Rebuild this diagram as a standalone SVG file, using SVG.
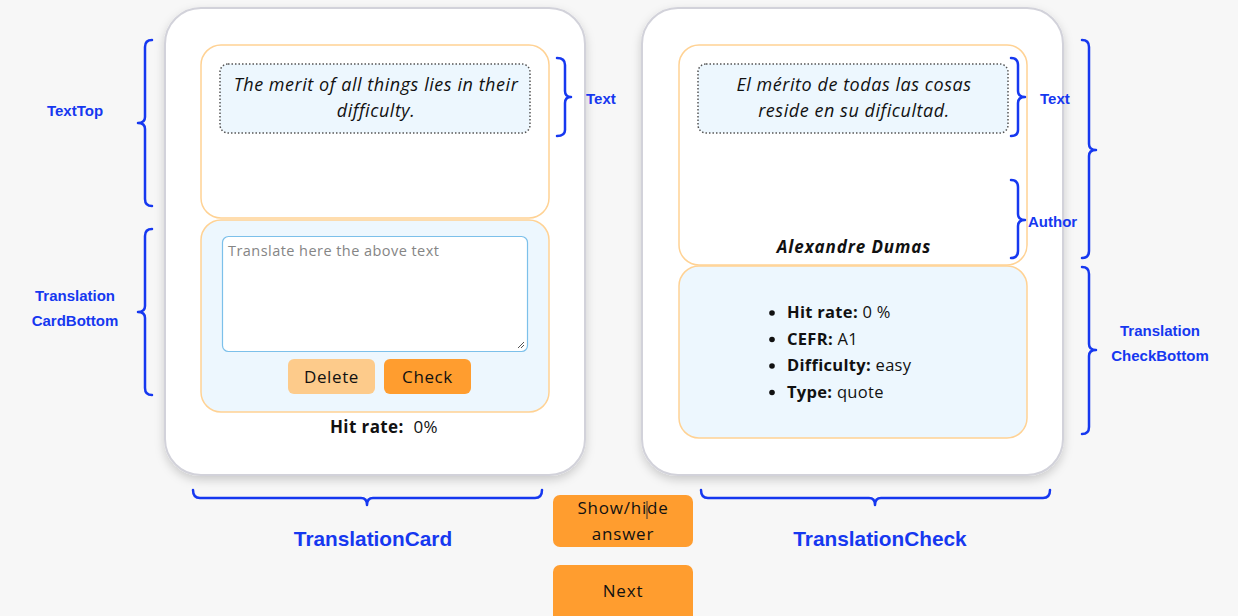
<svg xmlns="http://www.w3.org/2000/svg" width="1238" height="616" viewBox="0 0 1238 616">
<defs>
<filter id="sh" x="-10%" y="-10%" width="120%" height="120%">
<feDropShadow dx="0" dy="4" stdDeviation="5" flood-color="#000" flood-opacity="0.18"/>
</filter>
<style>
.card{fill:#fff;stroke:#d2d2da;stroke-width:2;filter:url(#sh)}
.panel{fill:#fff;stroke:#ffd294;stroke-width:1.5}
.panelb{fill:#edf7fe;stroke:#ffd294;stroke-width:1.5}
.dot{fill:#edf7fe;stroke:#555;stroke-width:1.5;stroke-dasharray:1.5 2}
.brace{fill:none;stroke:#1638f0;stroke-width:2.5;stroke-linecap:round;stroke-linejoin:round}
.lbl{font-family:"Liberation Sans",Arial,sans-serif;font-weight:bold;font-size:15px;fill:#1638f0}
.big{font-family:"Liberation Sans",Arial,sans-serif;font-weight:bold;font-size:20.8px;fill:#1638f0}
.pop{font-family:"Open Sans","Noto Sans",sans-serif;fill:#111}
.quote{font-style:italic;font-size:18px;letter-spacing:0.55px;text-anchor:middle}
.btn{fill:#ff9d2f}
</style>
</defs>
<rect x="0" y="0" width="1238" height="616" fill="#f7f7f7"/>

<g id="translationCard">
<rect class="card" x="165" y="8" width="420" height="467" rx="36"/>
<g id="textTop">
<rect class="panel" x="201" y="45" width="348" height="173" rx="20"/>
<rect class="dot" x="220" y="64" width="310" height="69" rx="8"/>
<text class="pop quote" x="376" y="91">The merit of all things lies in their</text>
<text class="pop quote" x="376" y="117">difficulty.</text>
</g>
<g id="cardBottom">
<rect class="panelb" x="201" y="220" width="348" height="192" rx="20"/>
<rect x="222.5" y="236.5" width="305" height="115" rx="6" fill="#fff" stroke="#7cc0ea" stroke-width="1.2"/>
<text class="pop" x="228" y="256" font-size="14.5" letter-spacing="0.45" style="fill:#858585">Translate here the above text</text>
<path d="M518 348 L524 342 M521 348 L524 345" stroke="#555" stroke-width="1"/>
<rect x="288" y="359" width="87" height="35" rx="6" fill="#fdcb8b"/>
<text class="pop" x="331.5" y="383" font-size="17" letter-spacing="0.6" text-anchor="middle">Delete</text>
<rect x="384" y="359" width="87" height="35" rx="6" class="btn"/>
<text class="pop" x="427.5" y="383" font-size="17" letter-spacing="0.6" text-anchor="middle">Check</text>
</g>
<text class="pop" x="384" y="433" font-size="17" letter-spacing="0.4" text-anchor="middle" xml:space="preserve"><tspan font-weight="bold">Hit rate:</tspan>  0%</text>
</g>

<g id="translationCheck">
<rect class="card" x="642" y="8" width="421" height="467" rx="36"/>
<g id="checkTop">
<rect class="panel" x="679" y="45" width="348" height="220" rx="20"/>
<rect class="dot" x="698" y="64" width="310" height="69" rx="8"/>
<text class="pop quote" x="854" y="91">El mérito de todas las cosas</text>
<text class="pop quote" x="854" y="117">reside en su dificultad.</text>
<text class="pop" x="854" y="253" font-size="17" font-weight="bold" font-style="italic" letter-spacing="0.9" text-anchor="middle">Alexandre Dumas</text>
</g>
<g id="checkBottom">
<rect class="panelb" x="679" y="266" width="348" height="172" rx="20"/>
<g class="pop" font-size="16.5" letter-spacing="0.3">
<circle cx="772" cy="313" r="2.8" fill="#111"/>
<circle cx="772" cy="339.5" r="2.8" fill="#111"/>
<circle cx="772" cy="366" r="2.8" fill="#111"/>
<circle cx="772" cy="392.5" r="2.8" fill="#111"/>
<text x="787" y="318"><tspan font-weight="bold">Hit rate:</tspan> 0 %</text>
<text x="787" y="344.5"><tspan font-weight="bold">CEFR:</tspan> A1</text>
<text x="787" y="371"><tspan font-weight="bold">Difficulty:</tspan> easy</text>
<text x="787" y="397.5"><tspan font-weight="bold">Type:</tspan> quote</text>
</g>
</g>
</g>

<g id="buttons">
<g id="showHide">
<rect x="553" y="495" width="140" height="52" rx="7" class="btn"/>
<text class="pop" x="623" y="514" font-size="17" letter-spacing="0.8" text-anchor="middle">Show/hide</text>
<text class="pop" x="623" y="540" font-size="17" letter-spacing="0.8" text-anchor="middle">answer</text>
<line x1="647" y1="501" x2="647" y2="519" stroke="#333" stroke-width="1"/>
</g>
<g id="next">
<rect x="553" y="565" width="140" height="60" rx="7" class="btn"/>
<text class="pop" x="623" y="597" font-size="17" letter-spacing="0.8" text-anchor="middle">Next</text>
</g>
</g>

<g id="connectors">
<path class="brace" d="M152 40 Q145 40 145 47 L145 117 Q145 123 138 123 Q145 123 145 129 L145 199 Q145 206 152 206"/>
<path class="brace" d="M152 229 Q145 229 145 236 L145 306 Q145 312 138 312 Q145 312 145 318 L145 388 Q145 395 152 395"/>
<path class="brace" d="M557 58 Q565 58 565 65 L565 91 Q565 97 571 97 Q565 97 565 103 L565 130 Q565 136 557 136"/>
<path class="brace" d="M1011 58 Q1018 58 1018 65 L1018 91 Q1018 97 1025 97 Q1018 97 1018 103 L1018 130 Q1018 136 1011 136"/>
<path class="brace" d="M1011 180 Q1018 180 1018 187 L1018 214 Q1018 220 1025 220 Q1018 220 1018 226 L1018 251 Q1018 258 1011 258"/>
<path class="brace" d="M1082 40 Q1089 40 1089 47 L1089 144 Q1089 150 1096 150 Q1089 150 1089 156 L1089 251 Q1089 258 1082 258"/>
<path class="brace" d="M1082 267 Q1089 267 1089 274 L1089 344 Q1089 350 1096 350 Q1089 350 1089 356 L1089 427 Q1089 434 1082 434"/>
<path class="brace" d="M193 490 Q193 498 200 498 L361 498 Q367 498 367 505 Q367 498 373 498 L535 498 Q542 498 542 490"/>
<path class="brace" d="M701 490 Q701 498 708 498 L869 498 Q875 498 875 505 Q875 498 881 498 L1043 498 Q1050 498 1050 490"/>
</g>

<g id="labels">
<text class="lbl" x="75" y="116" text-anchor="middle">TextTop</text>
<text class="lbl" x="75" y="301" text-anchor="middle">Translation</text>
<text class="lbl" x="75" y="326" text-anchor="middle">CardBottom</text>
<text class="lbl" x="586" y="104">Text</text>
<text class="lbl" x="1040" y="104">Text</text>
<text class="lbl" x="1028" y="227">Author</text>
<text class="lbl" x="1160" y="336" text-anchor="middle">Translation</text>
<text class="lbl" x="1160" y="361" text-anchor="middle">CheckBottom</text>
<text class="big" x="373" y="546" text-anchor="middle">TranslationCard</text>
<text class="big" x="880" y="546" text-anchor="middle">TranslationCheck</text>
</g>
</svg>
